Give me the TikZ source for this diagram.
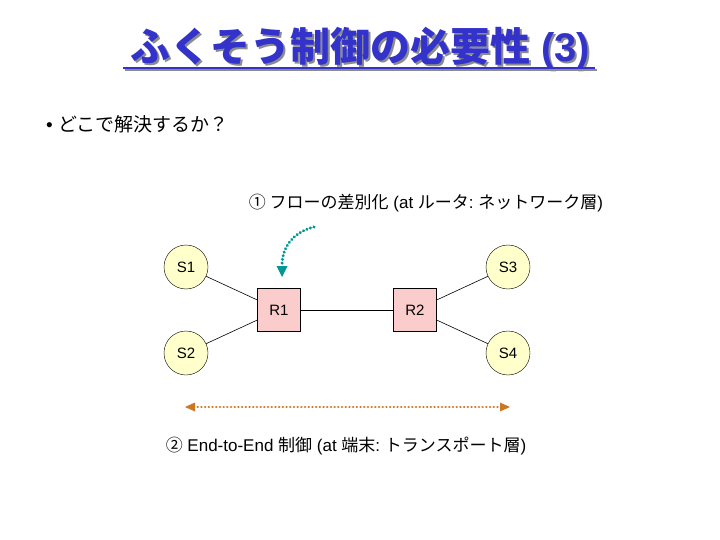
\documentclass[tikz,border=0pt]{standalone}
\usepackage{fontspec}
\setmainfont{Liberation Sans}
\newfontfamily\jp{Noto Sans CJK JP}
\usetikzlibrary{arrows.meta}
\definecolor{titleblue}{RGB}{51,51,204}
\definecolor{hostfill}{RGB}{255,255,204}
\definecolor{routerfill}{RGB}{250,204,204}
\definecolor{teal2}{RGB}{0,150,150}
\definecolor{brown2}{RGB}{204,119,34}
\newcommand{\mytitletext}{{\jp ふくそう制御の必要性}\ (3)}
\tikzset{
  host/.style={circle,draw=black,fill=hostfill,minimum size=44pt,inner sep=0pt,font=\fontsize{15}{15}\selectfont},
  router/.style={rectangle,draw=black,fill=routerfill,minimum size=43pt,inner sep=0pt,font=\fontsize{15}{15}\selectfont},
  link/.style={draw=black,line width=0.6pt},
  label/.style={inner sep=0pt,font=\fontsize{17}{17}\selectfont},
  dotarrow/.style={line width=3.2pt,dash pattern=on 0.1pt off 3.6pt,line cap=round},
}
\begin{document}
\begin{tikzpicture}[x=1pt,y=-1pt]
\useasboundingbox (0,0) rectangle (720,540);
\fill[white] (0,0) rectangle (720,540);
% title (with shadow inside one node)
\node[inner sep=0pt,font=\fontsize{40}{40}\selectfont\bfseries] (title) at (360,49)
  {\makebox[0pt][l]{\hspace{2pt}\raisebox{-2pt}{\color{black!45}\mytitletext}}\color{titleblue}\mytitletext};
\draw[black!45,line width=2pt] (125,70) -- (597,70);
\draw[titleblue,line width=2pt] (123,68) -- (595,68);
% bullet
\node[inner sep=0pt,anchor=west,font=\fontsize{19}{19}\selectfont] (bullet) at (46,124) {•\ \jp どこで解決するか？};
% network
\node[host] (S1) at (186,267) {S1};
\node[host] (S2) at (186,353) {S2};
\node[host] (S3) at (508,267) {S3};
\node[host] (S4) at (508,353) {S4};
\node[router] (R1) at (279,310) {R1};
\node[router] (R2) at (415,310) {R2};
\draw[link] (S1) -- (R1);
\draw[link] (S2) -- (R1);
\draw[link] (R1) -- (R2);
\draw[link] (R2) -- (S3);
\draw[link] (R2) -- (S4);
% label 1
\node[label] (lab1) at (426,203) {{\jp ①\ フローの差別化}\ (at\ {\jp ルータ}:\ {\jp ネットワーク層})};
\coordinate (a1s) at (314,227);
\coordinate (a1e) at (282,277);
\draw[teal2,dotarrow] (a1s) .. controls (294,232) and (282,246) .. (282,266);
\fill[teal2] (276.5,266) -- (287.5,266) -- (a1e) -- cycle;
% label 2
\coordinate (a2l) at (185,407);
\coordinate (a2r) at (510,407);
\draw[brown2,dotarrow,line width=2.6pt] (194,407) -- (501,407);
\fill[brown2] (a2l) -- (195,402.5) -- (195,411.5) -- cycle;
\fill[brown2] (a2r) -- (500,402.5) -- (500,411.5) -- cycle;
\node[label] (lab2) at (346,446) {{\jp ②}\ End-to-End\ {\jp 制御}\ (at\ {\jp 端末}:\ {\jp トランスポート層})};
\end{tikzpicture}
\end{document}
